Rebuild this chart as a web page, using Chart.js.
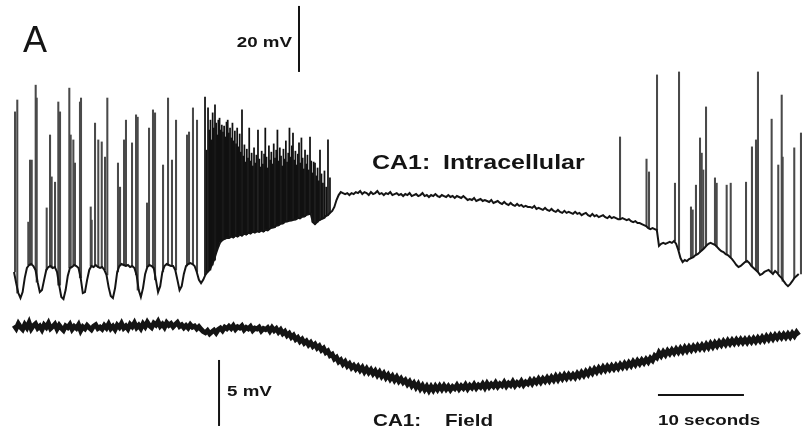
<!DOCTYPE html>
<html>
<head>
<meta charset="utf-8">
<title>CA1 intracellular and field recording</title>
<script src="https://cdn.jsdelivr.net/npm/chart.js@4.4.0/dist/chart.umd.min.js"></script>
<style>
  html, body { margin: 0; padding: 0; background: #fff; }
  #wrap { width: 802px; height: 432px; position: relative; }
</style>
</head>
<body>
<div id="wrap"><canvas id="trace"></canvas></div>
<script>
// both traces are sampled every 0.25 s
const SAMPLE_STEP = 0.25;

// intracellular membrane potential, mV (5 s per row)
const intraMv = [
  -57.4, -60.8, -63.8, -65.3, -63.5, -59.2, -56.2, -55.3, -55.0, -55.6, -56.8, -60.5, -63.5, -62.9, -59.8, -56.8, -55.9, -55.6, -56.2, -55.9,
  -57.4, -61.4, -65.0, -65.6, -62.9, -58.6, -56.2, -55.9, -55.3, -55.6, -56.2, -59.2, -63.8, -63.5, -59.8, -56.8, -55.6, -55.9, -55.3, -55.9,
  -56.2, -55.9, -56.8, -58.3, -62.0, -64.7, -65.3, -62.3, -57.4, -55.6, -55.0, -55.3, -55.6, -55.3, -55.9, -55.6, -56.2, -58.3, -62.9, -65.0,
  -62.3, -58.0, -55.9, -55.3, -55.6, -56.2, -59.8, -63.5, -61.7, -57.4, -55.6, -55.0, -55.3, -55.6, -55.6, -56.8, -59.8, -62.9, -61.7, -58.0,
  -55.6, -55.0, -54.7, -55.0, -55.6, -57.4, -59.8, -60.8, -59.8, -58.3, -57.4, -56.8, -55.3, -53.8, -51.7, -49.8, -48.3, -47.7, -47.4, -47.1,
  -47.1, -46.6, -47.0, -46.4, -46.7, -46.0, -46.4, -45.8, -46.1, -45.5, -45.8, -45.2, -45.5, -45.1, -45.3, -44.9, -45.2, -44.6, -44.8, -44.3,
  -44.0, -43.9, -43.4, -43.3, -42.8, -42.7, -42.2, -42.1, -41.9, -41.8, -41.6, -41.5, -41.0, -41.2, -40.7, -40.6, -40.1, -39.9, -39.7, -42.3,
  -42.9, -42.3, -41.7, -41.4, -41.1, -40.5, -40.2, -39.5, -38.9, -37.7, -35.6, -34.1, -33.2, -33.5, -33.8, -33.5, -34.1, -33.5, -33.8, -33.2,
  -33.5, -32.9, -33.8, -33.2, -33.5, -34.1, -33.2, -33.8, -33.5, -32.9, -33.8, -33.5, -34.1, -33.5, -33.8, -33.2, -34.1, -33.8, -33.5, -34.1,
  -33.8, -34.4, -33.8, -34.1, -33.5, -34.4, -34.1, -33.8, -34.4, -34.1, -33.5, -34.4, -34.1, -34.7, -34.1, -34.4, -33.8, -34.4, -34.7, -34.1,
  -34.4, -34.7, -34.1, -34.7, -34.4, -35.0, -34.4, -34.7, -35.0, -34.4, -35.0, -35.6, -35.3, -35.6, -35.0, -35.9, -35.6, -35.3, -35.9, -35.6,
  -35.9, -36.2, -35.6, -36.5, -36.2, -35.9, -36.5, -36.8, -36.2, -36.8, -37.1, -36.5, -37.1, -37.4, -36.8, -37.4, -37.1, -37.7, -37.4, -37.7,
  -37.7, -38.0, -37.4, -38.3, -38.0, -38.3, -38.6, -38.0, -38.6, -38.9, -38.3, -38.9, -39.2, -38.6, -39.2, -39.5, -38.9, -39.5, -39.2, -39.5,
  -39.8, -39.2, -39.8, -39.5, -40.2, -39.8, -39.5, -40.2, -40.5, -39.8, -40.5, -40.2, -40.8, -40.5, -40.2, -40.8, -41.1, -40.5, -41.1, -40.8,
  -41.1, -41.4, -41.4, -41.1, -41.4, -41.7, -41.4, -42.0, -42.3, -42.0, -42.6, -42.6, -42.9, -43.2, -43.5, -44.1, -44.4, -44.1, -44.4, -44.7,
  -49.5, -48.9, -48.6, -48.9, -48.6, -48.3, -48.6, -48.0, -48.9, -50.8, -53.2, -54.4, -53.8, -54.1, -53.5, -53.2, -52.9, -52.3, -52.0, -51.4,
  -50.8, -50.2, -49.5, -48.9, -48.6, -48.9, -49.2, -49.8, -50.5, -51.1, -51.4, -52.0, -52.3, -52.9, -53.5, -54.4, -55.3, -55.9, -55.6, -55.0,
  -54.4, -54.1, -54.7, -55.6, -56.2, -56.8, -57.4, -58.3, -58.0, -57.4, -57.1, -56.8, -57.4, -58.0, -57.1, -57.7, -58.6, -59.2, -60.2, -61.1,
  -61.7, -61.1, -60.2, -59.2, -58.6, -58.0
];

// extracellular field potential, mV (5 s per row)
const fieldMv = [
  0.35, 0.12, 0.48, 0.22, 0.05, 0.41, 0.18, 0.55, 0.09, 0.33, 0.47, 0.14, 0.29, 0.02, 0.38, 0.21, 0.51, 0.11, 0.26, 0.44,
  0.08, 0.36, 0.15, -0.02, 0.31, 0.19, 0.42, 0.05, 0.27, 0.13, 0.39, -0.05, 0.24, 0.10, 0.35, 0.18, 0.03, 0.29, 0.40, 0.12,
  0.22, 0.07, 0.34, 0.16, 0.45, 0.11, 0.28, 0.04, 0.37, 0.20, 0.49, 0.15, 0.30, 0.08, 0.42, 0.25, 0.53, 0.18, 0.36, 0.12,
  0.47, 0.25, 0.58, 0.33, 0.19, 0.52, 0.38, 0.64, 0.29, 0.45, 0.21, 0.55, 0.36, 0.48, 0.24, 0.41, 0.57, 0.28, 0.39, 0.18,
  0.34, 0.16, 0.41, 0.22, 0.30, 0.09, 0.25, 0.05, -0.12, -0.21, -0.05, -0.28, -0.14, -0.02, -0.22, 0.03, 0.15, -0.04, 0.21, 0.10,
  0.28, 0.12, 0.33, 0.06, 0.24, 0.15, 0.31, 0.02, 0.19, 0.09, 0.26, -0.03, 0.14, 0.08, 0.21, -0.06, 0.11, 0.03, 0.17, -0.08,
  0.18, -0.04, 0.11, -0.16, 0.02, -0.27, -0.12, -0.41, -0.26, -0.55, -0.40, -0.71, -0.57, -0.86, -0.70, -0.99, -0.84, -1.12, -0.95, -1.23,
  -1.08, -1.36, -1.21, -1.52, -1.38, -1.71, -1.59, -1.93, -1.84, -2.19, -2.07, -2.41, -2.27, -2.58, -2.40, -2.72, -2.55, -2.86, -2.69, -2.95,
  -2.76, -3.05, -2.84, -3.17, -2.93, -3.22, -3.01, -3.31, -3.10, -3.42, -3.19, -3.51, -3.29, -3.62, -3.40, -3.71, -3.49, -3.80, -3.57, -3.88,
  -3.68, -3.97, -3.80, -4.11, -3.91, -4.23, -4.02, -4.34, -4.10, -4.45, -4.21, -4.52, -4.27, -4.58, -4.29, -4.55, -4.26, -4.51, -4.24, -4.49,
  -4.22, -4.48, -4.27, -4.53, -4.30, -4.44, -4.19, -4.47, -4.24, -4.41, -4.16, -4.45, -4.21, -4.38, -4.13, -4.40, -4.18, -4.33, -4.09, -4.36,
  -4.05, -4.31, -4.10, -4.27, -4.01, -4.29, -4.08, -4.22, -3.96, -4.25, -4.03, -4.19, -3.92, -4.21, -3.99, -4.14, -3.88, -4.16, -3.95, -4.08,
  -3.82, -4.06, -3.79, -3.98, -3.71, -3.95, -3.69, -3.88, -3.62, -3.85, -3.58, -3.80, -3.50, -3.76, -3.47, -3.69, -3.41, -3.65, -3.38, -3.60,
  -3.38, -3.59, -3.30, -3.51, -3.22, -3.44, -3.15, -3.36, -3.05, -3.27, -2.96, -3.18, -2.88, -3.10, -2.81, -3.04, -2.76, -2.98, -2.72, -2.94,
  -2.68, -2.90, -2.61, -2.82, -2.54, -2.77, -2.48, -2.70, -2.40, -2.62, -2.33, -2.55, -2.28, -2.49, -2.22, -2.43, -2.14, -2.31, -1.96, -2.10,
  -1.72, -1.95, -1.66, -1.88, -1.58, -1.79, -1.52, -1.74, -1.45, -1.68, -1.40, -1.63, -1.33, -1.57, -1.29, -1.51, -1.24, -1.46, -1.19, -1.41,
  -1.16, -1.39, -1.10, -1.33, -1.03, -1.27, -0.98, -1.20, -0.92, -1.14, -0.86, -1.09, -0.81, -1.04, -0.78, -1.00, -0.74, -0.97, -0.72, -0.95,
  -0.71, -0.94, -0.68, -0.90, -0.64, -0.87, -0.60, -0.82, -0.55, -0.78, -0.49, -0.72, -0.44, -0.67, -0.40, -0.62, -0.36, -0.58, -0.33, -0.55,
  -0.30, -0.52, -0.24, -0.46, -0.18, -0.40
];

// single action potentials: time (s) and peak (mV)
const spikeTimes = [
  0.12, 0.38,
  1.66, 1.86, 2.06, 2.52, 2.64,
  3.80, 4.19, 4.38, 4.77, 5.15, 5.35,
  6.43, 6.59, 6.90, 7.09, 7.67, 7.79,
  8.92, 9.03, 9.42, 9.80, 10.20, 10.58, 10.85,
  12.09, 12.33, 12.79, 13.02, 13.72, 14.19, 14.38,
  15.47, 15.70, 16.16, 16.40,
  17.33, 17.91, 18.37, 18.84,
  20.12, 20.35, 20.81, 21.28,
  70.47, 73.55, 73.84, 74.77,
  76.86, 77.33,
  78.72, 78.92, 79.30, 79.77, 79.97, 80.15, 80.47,
  81.51, 81.71, 82.87, 83.34,
  85.12, 85.81, 86.28, 86.51,
  88.10, 88.87, 89.27, 89.38,
  90.73, 91.51
];
const spikePeaks = [
  -8.9, -5.3,
  -42.3, -23.5, -23.5, -0.8, -4.7,
  -38.0, -15.9, -28.6, -30.2, -5.9, -8.9,
  -1.7, -15.9, -17.4, -24.4, -5.9, -4.7,
  -37.7, -41.7, -12.3, -17.4, -18.0, -22.6, -4.7,
  -24.4, -31.7, -17.4, -11.4, -18.3, -9.8, -10.5,
  -36.5, -13.8, -8.3, -9.2,
  -25.0, -4.7, -23.5, -11.4,
  -15.9, -15.0, -7.7, -11.4,
  -16.5, -23.2, -27.1, 2.3,
  -30.5, 3.2,
  -37.7, -38.6, -31.1, -16.8, -21.4, -26.5, -7.4,
  -28.9, -30.5, -31.1, -30.5,
  -30.2, -19.5, -17.4, 3.2,
  -11.1, -25.0, -3.8, -22.6,
  -19.8, -15.3
];

// high-frequency discharge before the depolarised plateau
const burstTimes = [
  22.21, 22.40, 22.56, 22.70, 22.84, 22.97, 23.10, 23.24, 23.37, 23.50,
  23.63, 23.76, 23.90, 24.03, 24.16, 24.30, 24.43, 24.57, 24.71, 24.85,
  24.98, 25.12, 25.26, 25.40, 25.54, 25.68, 25.82, 25.95, 26.09, 26.24,
  26.38, 26.51, 26.65, 26.79, 26.93, 27.07, 27.21, 27.35, 27.49, 27.63,
  27.77, 27.91, 28.05, 28.19, 28.37, 28.52, 28.66, 28.80, 28.94, 29.08,
  29.22, 29.36, 29.50, 29.64, 29.78, 29.92, 30.06, 30.20, 30.35, 30.49,
  30.63, 30.77, 30.91, 31.05, 31.19, 31.33, 31.47, 31.61, 31.75, 31.89,
  32.03, 32.17, 32.31, 32.44, 32.58, 32.72, 32.86, 33.00, 33.14, 33.28,
  33.42, 33.56, 33.70, 33.84, 33.98, 34.12, 34.26, 34.42, 34.56, 34.70,
  34.84, 35.00, 35.15, 35.30, 35.45, 35.58, 35.75, 35.92, 36.10, 36.30,
  36.51, 36.74
];
const burstPeaks = [
  -4.4, -20.5, -7.7, -14.4, -11.4, -17.4, -9.2, -13.8, -6.8, -12.3,
  -15.9, -11.4, -10.8, -14.4, -12.9, -15.0, -13.2, -16.5, -12.0, -11.4,
  -15.3, -13.8, -16.8, -12.3, -17.7, -14.7, -18.6, -13.8, -19.5, -15.6,
  -21.1, -8.3, -22.3, -18.9, -24.1, -20.2, -22.9, -13.8, -23.8, -21.4,
  -25.3, -19.8, -24.4, -22.0, -14.4, -23.2, -25.6, -20.8, -24.7, -21.7,
  -13.8, -22.6, -25.9, -19.2, -23.5, -21.1, -24.7, -18.6, -22.9, -20.5,
  -14.4, -23.8, -19.8, -22.3, -25.3, -20.2, -23.2, -17.7, -24.1, -21.4,
  -13.8, -22.6, -19.2, -15.3, -23.5, -20.8, -25.0, -21.7, -18.3, -24.4,
  -16.8, -22.9, -26.2, -20.5, -24.7, -22.0, -26.5, -16.5, -23.8, -27.4,
  -24.1, -24.4, -28.3, -25.9, -29.8, -20.5, -27.7, -30.5, -26.8, -31.7,
  -17.4, -28.9
];

// calibration bars (sizes in data units, anchors in data units)
const BAR_INTRA_MV = 20;
const BAR_FIELD_MV = 5;
const BAR_SECONDS = 10;
const intraBarAt = { t: 33.14, mv: 3.2 };
const fieldBarAt = { t: 23.84, mv: -7.27 };
const timeBarAt = { t: 74.88, mv: -4.92 };

const INK = '#141414';
const FONT = '"Liberation Sans", Arial, Helvetica, sans-serif';

const toPoints = arr => arr.map((v, i) => ({ x: i * SAMPLE_STEP, y: v }));

// membrane potential at the sample nearest to t
function footAt(t) {
  const i = Math.min(intraMv.length - 1, Math.max(0, Math.round(t / SAMPLE_STEP)));
  return intraMv[i];
}

const spikeBars = (times, peaks) => times.map((t, i) => ({ x: t, y: [footAt(t), peaks[i]] }));

function drawText(ctx, text, x, y, size, weight, stretch, align) {
  ctx.save();
  ctx.font = `${weight} ${size}px ${FONT}`;
  ctx.textAlign = align || 'left';
  ctx.textBaseline = 'alphabetic';
  ctx.fillStyle = INK;
  ctx.translate(x, y);
  ctx.scale(stretch, 1);
  ctx.fillText(text, 0, 0);
  ctx.restore();
}

// calibration bars and labels
const calibration = {
  id: 'calibration',
  afterDatasetsDraw(chart) {
    const { ctx } = chart;
    const { x, yIntra, yField } = chart.scales;
    ctx.save();
    ctx.strokeStyle = INK;
    ctx.lineWidth = 2;
    ctx.lineCap = 'butt';

    const ix = x.getPixelForValue(intraBarAt.t);
    const iy0 = yIntra.getPixelForValue(intraBarAt.mv);
    const iy1 = yIntra.getPixelForValue(intraBarAt.mv + BAR_INTRA_MV);
    ctx.beginPath(); ctx.moveTo(ix, iy0); ctx.lineTo(ix, iy1); ctx.stroke();

    const fx = x.getPixelForValue(fieldBarAt.t);
    const fy0 = yField.getPixelForValue(fieldBarAt.mv);
    const fy1 = yField.getPixelForValue(fieldBarAt.mv + BAR_FIELD_MV);
    ctx.beginPath(); ctx.moveTo(fx, fy0); ctx.lineTo(fx, fy1); ctx.stroke();

    const tx0 = x.getPixelForValue(timeBarAt.t);
    const tx1 = x.getPixelForValue(timeBarAt.t + BAR_SECONDS);
    const ty = yField.getPixelForValue(timeBarAt.mv);
    ctx.beginPath(); ctx.moveTo(tx0, ty); ctx.lineTo(tx1, ty); ctx.stroke();
    ctx.restore();

    drawText(ctx, 'A', 23, 52, 36, 'normal', 1, 'left');
    drawText(ctx, '20 mV', ix - 7, 47, 15, 'bold', 1.25, 'right');
    drawText(ctx, '5 mV', fx + 8, 396, 15, 'bold', 1.25, 'left');
    drawText(ctx, '10 seconds', tx0, 425, 15, 'bold', 1.25, 'left');
    drawText(ctx, 'CA1:', 372, 169, 20, 'bold', 1.25, 'left');
    drawText(ctx, 'Intracellular', 443, 169, 20, 'bold', 1.25, 'left');
    drawText(ctx, 'CA1:', 373, 426, 16.5, 'bold', 1.25, 'left');
    drawText(ctx, 'Field', 445, 426, 16.5, 'bold', 1.25, 'left');
  }
};

new Chart(document.getElementById('trace'), {
  type: 'line',
  data: {
    datasets: [
      {
        type: 'line',
        label: 'CA1 intracellular',
        data: toPoints(intraMv),
        yAxisID: 'yIntra',
        borderColor: INK,
        borderWidth: 2,
        pointRadius: 0,
        tension: 0
      },
      {
        type: 'bar',
        label: 'spikes',
        data: spikeBars(spikeTimes, spikePeaks),
        yAxisID: 'yIntra',
        backgroundColor: '#4a4a4a',
        barThickness: 1.4,
        grouped: false
      },
      {
        type: 'bar',
        label: 'burst',
        data: spikeBars(burstTimes, burstPeaks),
        yAxisID: 'yIntra',
        backgroundColor: '#111',
        barThickness: 1.1,
        grouped: false
      },
      {
        type: 'line',
        label: 'CA1 field',
        data: toPoints(fieldMv),
        yAxisID: 'yField',
        borderColor: INK,
        borderWidth: 5,
        pointRadius: 0,
        tension: 0
      }
    ]
  },
  options: {
    responsive: true,
    maintainAspectRatio: false,
    devicePixelRatio: 1,
    animation: false,
    layout: { padding: 0 },
    plugins: { legend: { display: false }, tooltip: { enabled: false } },
    scales: {
      x: { type: 'linear', display: false, offset: false, min: -1.63, max: 91.63 },
      yIntra: { type: 'linear', display: false, min: -105.9, max: 25 },
      yField: { type: 'linear', display: false, min: -7.727, max: 25 }
    }
  },
  plugins: [calibration]
});
</script>
</body>
</html>
